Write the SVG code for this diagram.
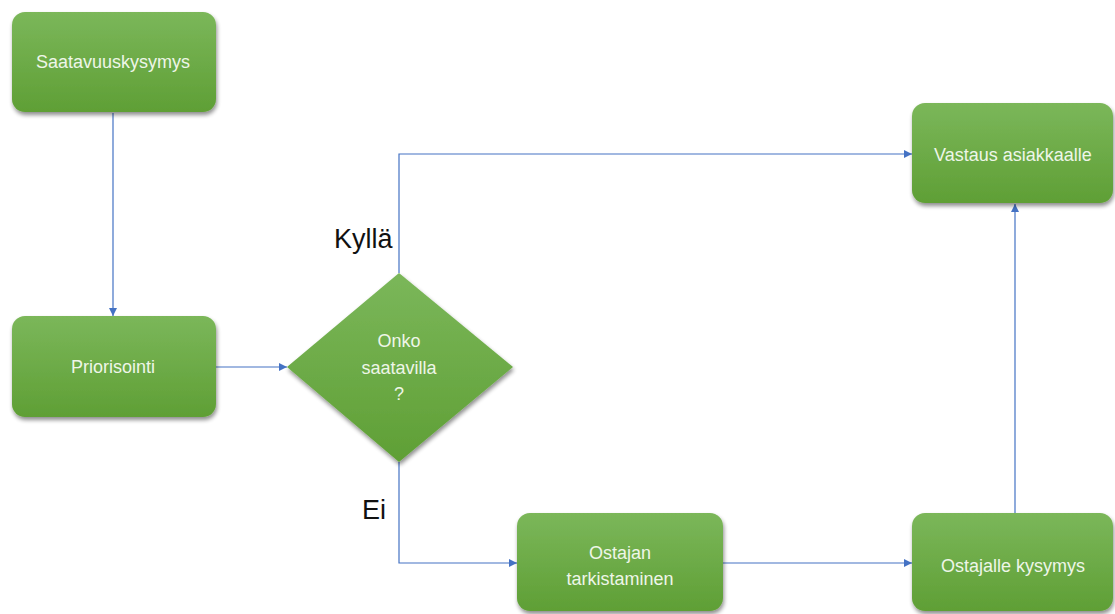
<svg xmlns="http://www.w3.org/2000/svg" width="1115" height="614" viewBox="0 0 1115 614">
  <defs>
    <linearGradient id="green" x1="0" y1="0" x2="0" y2="1">
      <stop offset="0" stop-color="#7bb75a"/>
      <stop offset="1" stop-color="#5f9f35"/>
    </linearGradient>
    <filter id="shadow" x="-10%" y="-10%" width="125%" height="130%">
      <feGaussianBlur in="SourceAlpha" stdDeviation="2"/>
      <feOffset dx="1" dy="3" result="b"/>
      <feComponentTransfer><feFuncA type="linear" slope="0.45"/></feComponentTransfer>
      <feMerge><feMergeNode/><feMergeNode in="SourceGraphic"/></feMerge>
    </filter>
    <marker id="arrow" viewBox="0 0 10 10" refX="10" refY="5" markerWidth="8" markerHeight="8" markerUnits="userSpaceOnUse" orient="auto">
      <path d="M0,0 L10,5 L0,10 z" fill="#4472c4"/>
    </marker>
  </defs>
  <style>
    .box { fill: url(#green); filter: url(#shadow); }
    .lbl { font-family: "Liberation Sans", Arial, sans-serif; font-size: 18px; fill: #eef6e8; text-anchor: middle; }
    .edge { fill: none; stroke: #4472c4; stroke-width: 1.2; marker-end: url(#arrow); }
    .note { font-family: "Liberation Sans", Arial, sans-serif; font-size: 27px; fill: #111; }
  </style>
  <rect width="1115" height="614" fill="#ffffff"/>

  <g id="connectors">
    <path class="edge" d="M113,113 L113,316"/>
    <path class="edge" d="M216,367 L287,367"/>
    <path class="edge" d="M399,273 L399,154 L912,154"/>
    <path class="edge" d="M399,462 L399,563 L517,563"/>
    <path class="edge" d="M722,563 L912,563"/>
    <path class="edge" d="M1015,513 L1015,204"/>
  </g>

  <g id="saatavuuskysymys">
    <rect class="box" x="12" y="12" width="204" height="100" rx="13"/>
    <text class="lbl" x="113" y="68">Saatavuuskysymys</text>
  </g>

  <g id="priorisointi">
    <rect class="box" x="12" y="316" width="204" height="101" rx="13"/>
    <text class="lbl" x="113" y="373">Priorisointi</text>
  </g>

  <g id="onko-saatavilla">
    <path class="box" d="M399,273 L513,367 L399,462 L287,367 z"/>
    <text class="lbl" x="399" y="347">Onko</text>
    <text class="lbl" x="399" y="374">saatavilla</text>
    <text class="lbl" x="399" y="400">?</text>
  </g>

  <g id="ostajan-tarkistaminen">
    <rect class="box" x="517" y="513" width="206" height="98" rx="13"/>
    <text class="lbl" x="620" y="559">Ostajan</text>
    <text class="lbl" x="620" y="585">tarkistaminen</text>
  </g>

  <g id="vastaus-asiakkaalle">
    <rect class="box" x="912" y="103" width="201" height="100" rx="13"/>
    <text class="lbl" x="1013" y="161">Vastaus asiakkaalle</text>
  </g>

  <g id="ostajalle-kysymys">
    <rect class="box" x="912" y="513" width="201" height="98" rx="13"/>
    <text class="lbl" x="1013" y="572">Ostajalle kysymys</text>
  </g>

  <g id="edge-labels">
    <text class="note" x="334" y="248">Kyllä</text>
    <text class="note" x="362" y="519">Ei</text>
  </g>
</svg>
